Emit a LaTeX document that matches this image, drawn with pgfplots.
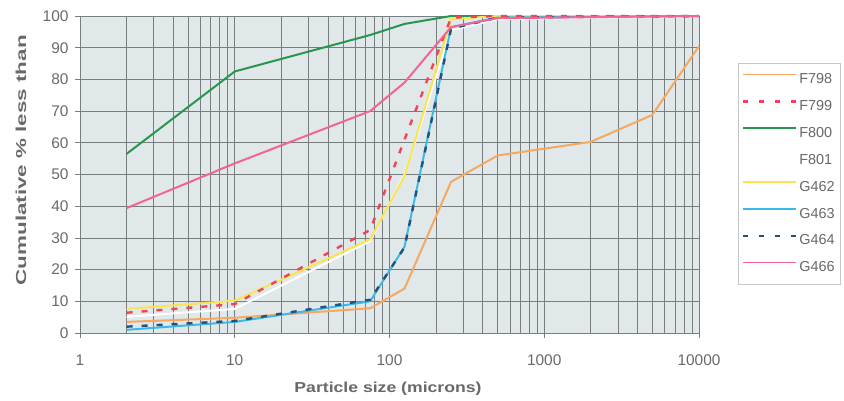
\documentclass[border=0pt]{standalone}
\usepackage{pgfplots}
\pgfplotsset{compat=1.18}
\usepackage{fontspec}
\setmainfont{Liberation Sans}
\definecolor{txt}{RGB}{105,105,105}
\definecolor{bg}{RGB}{225,232,233}
\definecolor{gridc}{RGB}{120,125,127}
\definecolor{cF798}{RGB}{246,168,96}
\definecolor{cF799}{RGB}{238,68,84}
\definecolor{cF800}{RGB}{40,150,80}
\definecolor{cG462}{RGB}{250,228,80}
\definecolor{cG463}{RGB}{60,185,230}
\definecolor{cG464}{RGB}{35,80,125}
\definecolor{cG466}{RGB}{242,100,150}
\begin{document}
\begin{tikzpicture}
\useasboundingbox (-80bp,-68bp) rectangle (764bp,333bp);
\begin{axis}[
  at={(0,0)}, anchor=south west,
  scale only axis, width=619bp, height=317bp,
  xmode=log, xmin=1, xmax=10000, ymin=0, ymax=100,
  ytick={0,10,...,100},
  xtick={1,10,100,1000,10000},
  xticklabels={1,10,100,1000,10000},
  grid=both,
  major grid style={gridc, line width=0.8pt},
  minor grid style={gridc, line width=0.8pt},
  axis background/.style={fill=bg},
  axis line style={gridc, line width=0.8pt},
  tick style={gridc, line width=0.8pt},
  major tick length=5bp, minor tick length=0pt,
  tick align=outside,
  xtick pos=bottom, ytick pos=left,
  /pgf/number format/assume math mode=true,
  ticklabel style={font=\fontsize{15.5}{18}\selectfont, text=txt},
  xticklabel style={yshift=-13bp},
  yticklabel style={xshift=-3bp},
  xlabel={\scalebox{1.22}[1]{\textbf{Particle size (microns)}}},
  ylabel={\scalebox{1.55}[1]{\textbf{Cumulative \% less than}}},
  label style={font=\fontsize{14.5}{17}\selectfont, text=txt},
  xlabel style={at={(axis description cs:0.4976,-0.1767)}, anchor=center},
  ylabel style={at={(axis description cs:-0.0953,0.545)}, anchor=center, rotate=0},
  clip=false,
  legend style={at={(658bp,270bp)}, anchor=north west, draw=black!22, fill=white,
    font=\fontsize{14.5}{17}\selectfont, text=txt, row sep=11.4bp,
    inner xsep=3.7bp, inner ysep=8.5bp,
    cells={anchor=west, inner ysep=0pt, inner xsep=1.5bp, text height=10bp, text depth=0bp}},
  legend image code/.code={\draw[#1] (0bp,5bp) -- (53bp,5bp);},
]
\addplot[cF798, line width=2pt, forget plot] coordinates {(2,3.5) (10,4.8) (75,7.8) (125,14) (250,47.7) (500,56) (2000,60.3) (5000,68.8) (10000,90.5)};
\addplot[white, line width=2pt, forget plot] coordinates {(2,5.1) (10,7.6) (75,29) (125,50) (250,95.5) (500,99) (10000,100)};
\addplot[cF800, line width=2pt, forget plot] coordinates {(2,56.5) (10,82.5) (75,94) (125,97.5) (250,100) (10000,100)};
\addplot[cG462, line width=2pt, forget plot] coordinates {(2,7.6) (10,10.2) (75,29.5) (125,49.5) (250,99) (500,100) (10000,100)};
\addplot[cG463, line width=2pt, forget plot] coordinates {(2,1) (10,3.5) (75,10) (125,27.2) (250,96.5) (500,99.5) (10000,100)};
\addplot[cG464, line width=2.4pt, dash pattern=on 6bp off 9bp, forget plot] coordinates {(2,2) (10,3.8) (75,10.5) (125,27) (250,96) (500,99.5) (10000,100)};
\addplot[cF799, line width=2.4pt, dash pattern=on 6bp off 9bp, forget plot] coordinates {(2,6.4) (10,9.1) (75,32.5) (125,61) (250,99.5) (500,100) (10000,100)};
\addplot[cG466, line width=2pt, forget plot] coordinates {(2,39.4) (10,53.5) (75,70) (125,79) (250,96.5) (500,99.3) (10000,100)};
\addlegendimage{cF798, line width=1.6pt}\addlegendentry{F798}
\addlegendimage{cF799, line width=2.4pt, dash pattern=on 4.5bp off 11.5bp}\addlegendentry{F799}
\addlegendimage{cF800, line width=1.6pt}\addlegendentry{F800}
\addlegendimage{white, line width=1.6pt}\addlegendentry{F801}
\addlegendimage{cG462, line width=1.6pt}\addlegendentry{G462}
\addlegendimage{cG463, line width=1.6pt}\addlegendentry{G463}
\addlegendimage{cG464, line width=2.4pt, dash pattern=on 4.5bp off 11.5bp}\addlegendentry{G464}
\addlegendimage{cG466, line width=1.6pt}\addlegendentry{G466}
\end{axis}
\end{tikzpicture}
\end{document}
